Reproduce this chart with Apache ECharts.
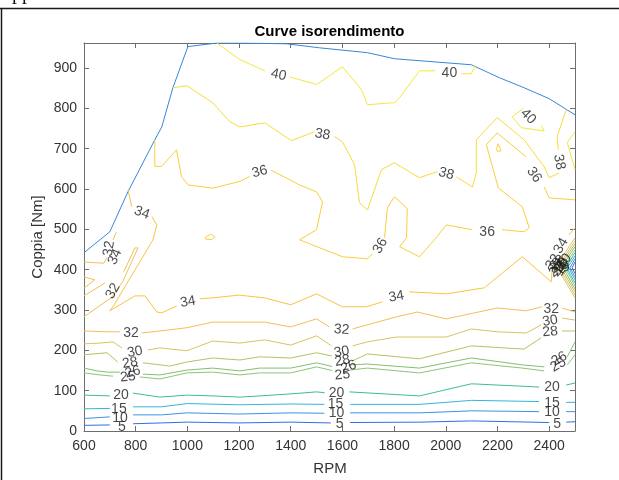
<!DOCTYPE html>
<html><head><meta charset="utf-8">
<script src="https://cdn.jsdelivr.net/npm/echarts@6/dist/echarts.min.js"></script>
<style>html,body{margin:0;padding:0;background:#fff}#c{width:619px;height:480px}</style>
</head><body><div id="c"></div>
<script>
// Axis ticks
const rpmTicks = [600, 800, 1000, 1200, 1400, 1600, 1800, 2000, 2200, 2400];
const torqueTicks = [0, 100, 200, 300, 400, 500, 600, 700, 800, 900];

// Full-load torque limit [RPM, Nm]
const limitCurve = [[600,442],[700,494],[770,593],[874,722],[901,754],[944,851],[1002,953],[1114,962],[1203,962],[1384,960],[1512,950],[1697,938],[1801,923],[2099,908],[2207,876],[2292,854],[2400,824],[2500,784]];

// Efficiency iso-lines [RPM, Nm]; null marks a break where a label sits
const eff40a = [[1114,962],[1203,921],[1300,893],null,[1396,878],[1500,859],[1600,903],[1674,846],[1697,809],[1801,814],[1821,826],[1898,893],[1960,893],null,[2060,886],[2099,886],[2114,906]];
const eff40b = [[2300,800],[2296,804],[2257,779],[2292,752],[2381,744],[2370,757]];
const eff40c = [[2500,742],[2470,715],[2500,648]];
const eff38 = [[944,851],[998,856],[1098,814],[1164,767],[1203,754],[1299,764],[1403,720],[1492,742],null,[1569,730],[1600,717],[1647,660],[1666,566],[1697,548],[1751,648],[1801,665],[1898,628],[1967,643],null,[2041,630],[2103,605],[2118,640],[2118,722],[2199,777],[2303,722],[2381,655],[2400,628],[2439,640],null,[2435,697],[2431,730],[2466,797]];
const eff36 = [[874,722],[874,656],[900,656],[958,697],[977,631],[1003,610],[1099,602],[1203,619],[1241,631],null,[1325,646],[1396,623],[1434,610],[1500,593],[1523,568],[1500,499],[1434,474],[1600,432],[1697,427],[1716,439],null,[1763,479],[1774,553],[1801,581],[1851,551],[1848,479],[1821,457],[1898,432],[1956,474],[2002,511],[2103,499],null,[2218,499],[2303,494],[2323,504],[2296,556],[2203,603],[2157,710],[2199,739],[2311,680],null,[2381,605],[2400,578],[2500,573]];
const eff36b = [[1070,480],[1090,488],[1106,482],[1095,474],[1070,476],[1070,480]];
const eff36c = [[2196,700],[2203,712],[2214,695],[2200,693],[2196,700]];
const eff34 = [[770,598],[785,556],null,[863,531],[882,511],[867,474],[809,412],[712,308],[700,298],[797,335],[836,335],[882,295],[901,293],[959,310],null,[1048,328],[1098,330],[1199,337],[1299,330],[1400,313],[1500,340],[1600,308],[1693,308],[1755,320],null,[1859,345],[2002,340],[2149,355],[2296,432],[2408,370],[2412,400],null,[2477,486],[2500,504]];
const eff32 = [[600,248],[689,246],[739,246],null,[824,243],[894,248],[998,256],[1098,270],[1203,270],[1299,270],[1400,258],[1500,278],[1550,258],null,[1639,253],[1809,283],[1890,295],[2002,278],[2199,305],[2311,298],[2373,308],null,[2450,305],[2500,295]];
const eff32a = [[600,419],[677,416],[688,430],null,[712,474],[725,493]];
const eff32b = [[600,335],[681,367],null,[754,395],[797,454],[809,454],[751,372],[708,332],[600,283]];
const eff32c = [[600,382],[642,375],[600,354]];
const eff30 = [[600,216],[662,218],[712,221],[747,206],null,[847,201],[894,206],[998,199],[1098,223],[1203,218],[1299,226],[1400,213],[1500,236],[1558,211],null,[1639,211],[1697,221],[1809,233],[2002,233],[2099,253],[2199,246],[2311,243],[2369,263],null,[2450,280],[2500,275]];
const eff28 = [[600,189],[689,194],[731,171],null,[828,169],[894,164],[932,161],[998,171],[1098,181],[1203,176],[1280,184],[1400,181],[1500,194],[1560,186],null,[1639,174],[1697,191],[1898,179],[2099,211],[2303,203],[2369,231],null,[2450,248],[2500,248]];
const eff26 = [[600,156],[650,149],[693,146],[739,146],null,[828,141],[894,139],[998,151],[1098,156],[1203,149],[1280,156],[1400,156],[1500,169],[1560,160],null,[1627,164],[1697,166],[1898,156],[2099,181],[2296,164],[2381,159],null,[2470,184],[2500,221]];
const eff25 = [[600,144],[662,139],[712,136],null,[816,134],[894,129],[998,144],[1098,146],[1203,139],[1280,144],[1400,144],[1500,159],[1560,150],null,[1627,151],[1697,156],[1898,144],[2099,169],[2296,156],[2381,149],null,[2470,164],[2500,189]];
const eff20 = [[600,89],[700,87],null,[789,94],[894,84],[998,89],[1098,87],[1203,84],[1280,87],[1400,92],[1500,97],[1531,95],null,[1627,97],[1898,87],[2099,117],[2361,109],null,[2466,114],[2500,119]];
const eff15 = [[600,55],[700,56],null,[790,60],[900,60],[1000,68],[1200,65],[1400,67],[1530,66],null,[1630,66],[1900,66],[2100,76],[2361,73],null,[2466,71],[2500,71]];
const eff10 = [[600,31],[700,35],null,[790,40],[900,40],[1000,45],[1200,42],[1400,45],[1530,44],null,[1630,45],[1900,45],[2100,50],[2361,48],null,[2466,48],[2500,48]];
const eff5 = [[600,14],[700,15],null,[790,18],[900,20],[1000,22],[1200,20],[1400,22],[1555,20],null,[1630,21],[1900,22],[2100,25],[2400,21],null,[2466,22],[2500,23]];

// Steep drop at the right edge near 2450 RPM / 400 Nm
const dip32 = [[2500,479],[2427,409],[2500,330]];
const dip30 = [[2500,471],[2435,409],[2500,337]];
const dip28 = [[2500,464],[2442,409],[2500,345]];
const dip26 = [[2500,457],[2450,409],[2500,352]];
const dip25 = [[2500,449],[2458,409],[2500,360]];
const dip20 = [[2500,442],[2466,407],[2500,367]];
const dip15 = [[2500,434],[2473,407],[2500,375]];
const dip10 = [[2500,427],[2481,405],[2500,382]];
const dip5 = [[2500,419],[2489,405],[2500,390]];

// Contour labels [RPM, Nm, text]
const contourLabels = [
  [1353,883,'40'],[2014,888,'40'],[2319,780,'40'],
  [1523,735,'38'],[2002,638,'38'],[2439,667,'38'],
  [1280,643,'36'],[1747,459,'36'],[2160,494,'36'],[2342,635,'36'],
  [824,541,'34'],[1002,320,'34'],[1809,333,'34'],[2446,459,'34'],[720,432,'34'],
  [782,243,'32'],[1597,251,'32'],[2408,303,'32'],[697,452,'32'],[712,347,'32'],
  [797,196,'30'],[1597,196,'30'],[2404,273,'30'],
  [778,169,'28'],[1600,174,'28'],[2404,246,'28'],
  [789,146,'26'],[1624,159,'26'],[2439,179,'26'],
  [770,134,'25'],[1600,139,'25'],[2435,164,'25'],
  [743,89,'20'],[1577,94,'20'],[2411,109,'20'],
  [735,55,'15'],[1573,67,'15'],[2411,69,'15'],
  [739,32,'10'],[1577,45,'10'],[2411,47,'10'],
  [747,10,'5'],[1589,17,'5'],[2431,17,'5'],
  [2415,419,'32'],[2425,410,'30'],[2433,417,'28'],[2440,402,'26'],[2447,412,'25'],[2430,400,'20'],[2452,404,'15'],[2458,420,'10'],[2462,406,'5']
];
const labelAngles = [
  -12,0,-45,
  -10,-15,-80,
  15,60,0,-55,
  -20,10,10,60,65,
  0,-5,0,80,60,
  10,10,10,
  10,10,5,
  15,20,30,
  5,5,30,
  0,0,0,
  0,0,0,
  0,0,0,
  0,0,0,
  55,60,45,50,60,40,55,50,45
];

const colors = {
  limit:'#3388d6', 5:'#2e6fe6', 10:'#3b93e3', 15:'#35b5d6', 20:'#3dbb9e', 25:'#8cc57a', 26:'#82c070',
  28:'#b5c462', 30:'#d6c560', 32:'#f2c05a', 34:'#f8c443', 36:'#f9cf3c', 38:'#f7dc3a', 40:'#f3e83c'
};

const paths = [
  ['limit', limitCurve],
  [40, eff40a],[40, eff40b],[40, eff40c],
  [38, eff38],
  [36, eff36],[36, eff36b],[36, eff36c],
  [34, eff34],
  [32, eff32],[32, eff32a],[32, eff32b],[32, eff32c],
  [30, eff30],[28, eff28],[26, eff26],[25, eff25],[20, eff20],[15, eff15],[10, eff10],[5, eff5],
  [32, dip32],[30, dip30],[28, dip28],[26, dip26],[25, dip25],[20, dip20],[15, dip15],[10, dip10],[5, dip5]
];

const FONT = 'Liberation Sans, Arial, Helvetica, sans-serif';
const axisGray = '#6e6e6e';

const series = paths.map(([lvl, pts]) => ({
  type: 'line',
  data: pts.map(p => p === null ? ['-', '-'] : p),
  symbol: 'none',
  connectNulls: false,
  silent: true,
  animation: false,
  lineStyle: { color: colors[lvl], width: 1 },
  z: 2
}));

series.push({
  type: 'scatter',
  symbolSize: 1,
  itemStyle: { color: 'rgba(0,0,0,0)' },
  silent: true,
  animation: false,
  z: 5,
  data: contourLabels.map((d, i) => ({
    value: d,
    label: { rotate: labelAngles[i] }
  })),
  label: {
    show: true,
    position: 'inside',
    formatter: p => p.value[2],
    color: '#1a1a1a',
    fontSize: 14,
    fontFamily: FONT
  }
});

const plain = v => String(v);

const baseX = {
  type: 'value', min: 600, max: 2500,
  splitLine: { show: false },
  axisLine: { show: true, onZero: false, lineStyle: { color: axisGray, width: 1 } },
  axisTick: { inside: true, length: 5, customValues: rpmTicks, lineStyle: { color: axisGray } }
};
const baseY = {
  type: 'value', min: 0, max: 962,
  splitLine: { show: false },
  axisLine: { show: true, onZero: false, lineStyle: { color: axisGray, width: 1 } },
  axisTick: { inside: true, length: 5, customValues: torqueTicks, lineStyle: { color: axisGray } }
};

const chart = echarts.init(document.getElementById('c'), null, { renderer: 'canvas' });
chart.setOption({
  backgroundColor: '#ffffff',
  animation: false,
  grid: { left: 84, right: 44, top: 43, bottom: 49 },
  xAxis: [
    Object.assign({}, baseX, { position: 'bottom',
      axisLabel: { customValues: rpmTicks, formatter: plain, color: '#333', fontSize: 14, fontFamily: FONT, margin: 8 } }),
    Object.assign({}, baseX, { position: 'top', axisLabel: { show: false } })
  ],
  yAxis: [
    Object.assign({}, baseY, { position: 'left',
      axisLabel: { customValues: torqueTicks, formatter: plain, color: '#333', fontSize: 14, fontFamily: FONT, margin: 7 } }),
    Object.assign({}, baseY, { position: 'right', axisLabel: { show: false } })
  ],
  series: series,
  graphic: [
    { type: 'line', shape: { x1: 0, y1: 8.5, x2: 619, y2: 8.5 }, style: { stroke: '#1a1a1a', lineWidth: 1.5 }, silent: true },
    { type: 'line', shape: { x1: 1.5, y1: 8, x2: 1.5, y2: 480 }, style: { stroke: '#1a1a1a', lineWidth: 1.5 }, silent: true },
    { type: 'text', left: 12, top: -16, style: { text: 'pp', font: '20px "Liberation Serif", serif', fill: '#111' }, silent: true },
    { type: 'text', x: 329.5, y: 32, style: { text: 'Curve isorendimento', font: 'bold 15px ' + FONT, fill: '#000', align: 'center', verticalAlign: 'middle' }, silent: true },
    { type: 'text', x: 330, y: 469, style: { text: 'RPM', font: '15px ' + FONT, fill: '#333', align: 'center', verticalAlign: 'middle' }, silent: true },
    { type: 'text', x: 37.5, y: 237, rotation: Math.PI / 2, style: { text: 'Coppia [Nm]', font: '15px ' + FONT, fill: '#333', align: 'center', verticalAlign: 'middle' }, silent: true }
  ]
});
</script></body></html>
